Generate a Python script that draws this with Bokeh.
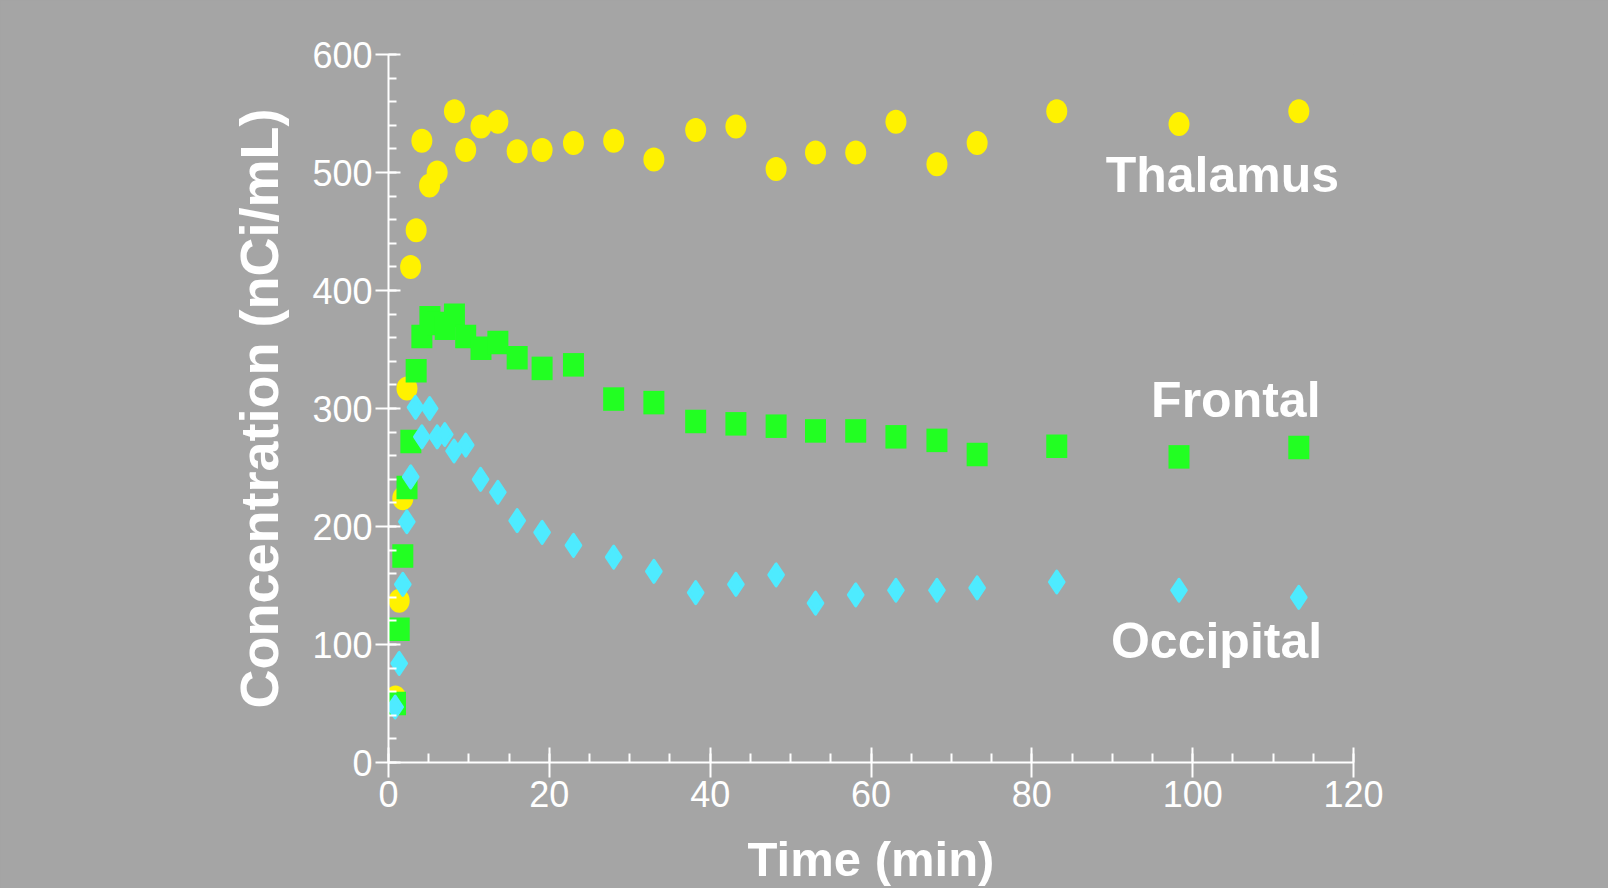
from bokeh.plotting import figure
from bokeh.models import Range1d, SingleIntervalTicker
from bokeh.core.properties import value
from bokeh.embed import file_html
from bokeh.resources import INLINE

# ---- data ----
thal_t = [0.87, 1.33, 1.78, 2.3, 2.75, 3.44, 4.15, 5.1, 6.05, 8.2, 9.6, 11.5, 13.6, 16.0, 19.1,
          23.0, 28.0, 33.0, 38.2, 43.2, 48.2, 53.1, 58.1, 63.1, 68.2, 73.2, 83.1, 98.3, 113.2]
thal_c = [55, 137, 224, 317, 420, 451, 527, 489, 500, 552, 519, 539, 543, 518, 519,
          525, 527, 511, 536, 539, 503, 517, 517, 543, 507, 525, 552, 541, 552]

front_t = [0.87, 1.33, 1.78, 2.3, 2.78, 3.44, 4.15, 5.15, 6.05, 7.05, 8.2, 9.6, 11.5, 13.6, 16.0,
           19.1, 23.0, 28.0, 33.0, 38.2, 43.2, 48.2, 53.1, 58.1, 63.1, 68.2, 73.2, 83.1, 98.3, 113.2]
front_c = [50, 113, 175, 233, 272, 332, 361, 377, 372, 368, 379, 361, 351, 356, 343,
           334, 337, 308, 305, 289, 287, 285, 281, 281, 276, 273, 261, 268, 259, 267]

occ_t = [0.83, 1.33, 1.78, 2.28, 2.76, 3.36, 4.15, 5.12, 6.05, 7.0, 8.15, 9.6, 11.45, 13.6, 16.0,
         19.1, 23.0, 28.0, 33.0, 38.2, 43.2, 48.2, 53.1, 58.1, 63.1, 68.2, 73.2, 83.1, 98.3, 113.2]
occ_c = [47, 84, 151, 204, 242, 301, 276, 300, 276, 278, 264, 269, 240, 229, 205,
         195, 184, 174, 162, 144, 151, 159, 135, 142, 146, 146, 148, 153, 146, 140]

series_names = ["Thalamus", "Frontal", "Occipital"]
label_x = [118.2, 115.9, 116.1]
label_y = [498, 307, 103]

x_label = "Time (min)"
y_label = "Concentration (nCi/mL)"

# ---- style ----
BG = "#A5A5A5"
YELLOW = "#FFF200"
GREEN = "#22FF22"
CYAN = "#4EEBFF"
FONT = "Liberation Sans"

p = figure(width=1608, height=888,
           x_range=Range1d(0, 120), y_range=Range1d(0, 600),
           output_backend="svg", toolbar_location=None,
           background_fill_color=BG, border_fill_color=BG,
           outline_line_color=None,
           min_border_left=388, min_border_right=255,
           min_border_top=54, min_border_bottom=123)
p.styles = {"background-color": BG}
p.grid.visible = False

p.xaxis.ticker = SingleIntervalTicker(interval=20, num_minor_ticks=4)
p.yaxis.ticker = SingleIntervalTicker(interval=100, num_minor_ticks=5)

for ax in (p.xaxis[0], p.yaxis[0]):
    ax.axis_line_color = "white"
    ax.axis_line_width = 2
    ax.major_tick_line_color = "white"
    ax.major_tick_line_width = 2
    ax.minor_tick_line_color = "white"
    ax.minor_tick_line_width = 2
    ax.major_label_text_color = "white"
    ax.major_label_text_font = FONT
    ax.major_label_text_font_size = "36px"
    ax.axis_label_text_color = "white"
    ax.axis_label_text_font = FONT
    ax.axis_label_text_font_style = "bold"

p.xaxis.major_tick_in = 15
p.xaxis.major_tick_out = 15
p.xaxis.minor_tick_in = 9
p.xaxis.minor_tick_out = 0
p.xaxis.major_label_standoff = 3
p.xaxis.axis_label = x_label
p.xaxis.axis_label_text_font_size = "49px"
p.xaxis.axis_label_standoff = 22

p.yaxis.major_tick_in = 12
p.yaxis.major_tick_out = 13
p.yaxis.minor_tick_in = 8
p.yaxis.minor_tick_out = 0
p.yaxis.major_label_standoff = 3
p.yaxis.axis_label = y_label
p.yaxis.axis_label_text_font_size = "54px"
p.yaxis.axis_label_standoff = 20

# ---- marks ----
p.ellipse(x=thal_t, y=thal_c, width=21, height=24,
          width_units="screen", height_units="screen",
          fill_color=YELLOW, line_color=None)
p.rect(x=front_t, y=front_c, width=21, height=23.5,
       width_units="screen", height_units="screen",
       fill_color=GREEN, line_color=None)
p.scatter(x=occ_t, y=occ_c, marker="diamond", size=22,
          fill_color=CYAN, line_color=CYAN, line_width=3, line_join="round")

p.text(x=label_x, y=label_y, text=series_names,
       text_font=value(FONT), text_font_style="bold",
       text_font_size="50px", text_color="white",
       text_align="right", text_baseline="alphabetic")

open("out.html", "w").write(file_html(p, INLINE))
